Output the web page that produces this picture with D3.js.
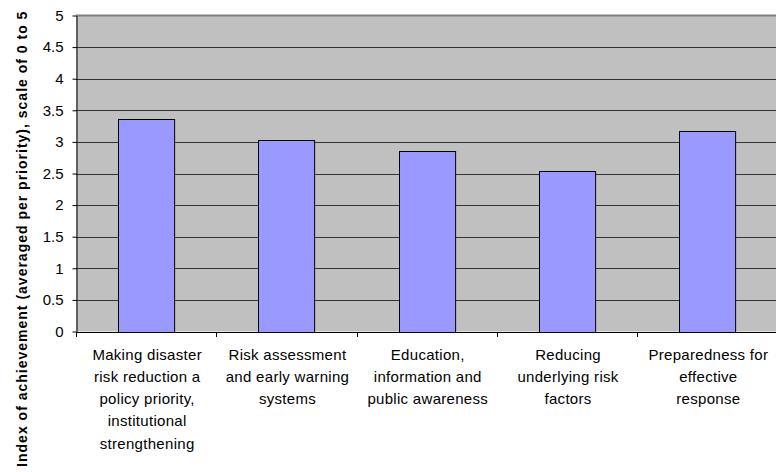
<!DOCTYPE html>
<html>
<head>
<meta charset="utf-8">
<script src="https://cdn.jsdelivr.net/npm/d3@7"></script>
<style>
  body { margin: 0; background: #fff; }
  text { font-family: Arial, "Liberation Sans", sans-serif; fill: #000; }
</style>
</head>
<body>
<div class="chart"></div>
<script>
const categories = [
    ["Making disaster", "risk reduction a", "policy priority,", "institutional", "strengthening"],
    ["Risk assessment", "and early warning", "systems"],
    ["Education,", "information and", "public awareness"],
    ["Reducing", "underlying risk", "factors"],
    ["Preparedness for", "effective", "response"]
];
const values = [3.36, 3.03, 2.85, 2.54, 3.17];
const yTicks = [0, 0.5, 1, 1.5, 2, 2.5, 3, 3.5, 4, 4.5, 5];
const yTitle = "Index of achievement (averaged per priority), scale of 0 to 5";

const width = 776, height = 472;
const margin = { top: 15.5, right: -1.5, bottom: 140.5, left: 76 };

const svg = d3.select(".chart").append("svg")
    .attr("width", width)
    .attr("height", height);

const idx = d3.range(categories.length);

const x = d3.scaleBand()
    .domain(idx)
    .range([margin.left, width - margin.right])
    .paddingInner(0.6)
    .paddingOuter(0.3);

const xEdge = d3.scaleLinear()
    .domain([0, categories.length])
    .range([margin.left, width - margin.right]);

const y = d3.scaleLinear()
    .domain([0, 5])
    .range([height - margin.bottom, margin.top]);

// plot background
svg.append("rect")
    .attr("x", margin.left)
    .attr("y", y(5))
    .attr("width", xEdge(categories.length) - margin.left)
    .attr("height", y(0) - y(5))
    .attr("fill", "#c0c0c0");

// gridlines
svg.append("g")
    .selectAll("line")
    .data(yTicks.filter(d => d > 0 && d < 5))
    .join("line")
        .attr("x1", margin.left)
        .attr("x2", xEdge(categories.length))
        .attr("y1", d => Math.round(y(d)) + 0.5)
        .attr("y2", d => Math.round(y(d)) + 0.5)
        .attr("stroke", "#333")
        .attr("stroke-width", 1);

// top border
svg.append("line")
    .attr("x1", margin.left)
    .attr("x2", xEdge(categories.length))
    .attr("y1", y(5))
    .attr("y2", y(5))
    .attr("stroke", "#808080")
    .attr("stroke-width", 2);

// bars
svg.append("g")
    .selectAll("rect")
    .data(values)
    .join("rect")
        .attr("x", (d, i) => Math.round(x(i)) + 0.5)
        .attr("y", d => Math.round(y(d)) + 0.5)
        .attr("width", x.bandwidth())
        .attr("height", d => Math.round(y(0)) - Math.round(y(d)))
        .attr("fill", "#9999ff")
        .attr("stroke", "#000")
        .attr("stroke-width", 1);

// y axis
const yAxis = g => g
    .attr("transform", `translate(${margin.left + 0.5}, 0)`)
    .call(d3.axisLeft(y).tickValues(yTicks).tickFormat(d => d).tickSize(4).tickSizeOuter(0))
    .call(g => g.select(".domain").attr("stroke", "#000"))
    .call(g => g.selectAll(".tick text")
        .attr("x", -13)
        .style("font-size", "15px")
        .style("font-family", "Arial, 'Liberation Sans', sans-serif"));
svg.append("g").call(yAxis);

// x axis line and ticks
svg.append("line")
    .attr("x1", margin.left)
    .attr("x2", xEdge(categories.length))
    .attr("y1", Math.round(y(0)) + 0.5)
    .attr("y2", Math.round(y(0)) + 0.5)
    .attr("stroke", "#000");

svg.append("g")
    .selectAll("line")
    .data(d3.range(categories.length + 1))
    .join("line")
        .attr("x1", d => Math.round(xEdge(d)) + 0.5)
        .attr("x2", d => Math.round(xEdge(d)) + 0.5)
        .attr("y1", Math.round(y(0)))
        .attr("y2", Math.round(y(0)) + 5)
        .attr("stroke", "#000");

// category labels
const labels = svg.append("g")
    .selectAll("text")
    .data(categories)
    .join("text")
        .attr("text-anchor", "middle")
        .style("font-size", "15px")
        .style("letter-spacing", "0.3px")
        .attr("transform", (d, i) => `translate(${x(i) + x.bandwidth() / 2 + 1}, ${y(0) + 28})`);

labels.selectAll("tspan")
    .data(d => d)
    .join("tspan")
        .attr("x", 0)
        .attr("y", (d, i) => i * 22.3)
        .text(d => d);

// y title
svg.append("text")
    .attr("transform", `translate(27, ${(margin.top + height) / 2 - 5}) rotate(-90)`)
    .attr("text-anchor", "middle")
    .style("font-size", "14px")
    .style("font-weight", "bold")
    .style("letter-spacing", "1px")
    .text(yTitle);
</script>
</body>
</html>
